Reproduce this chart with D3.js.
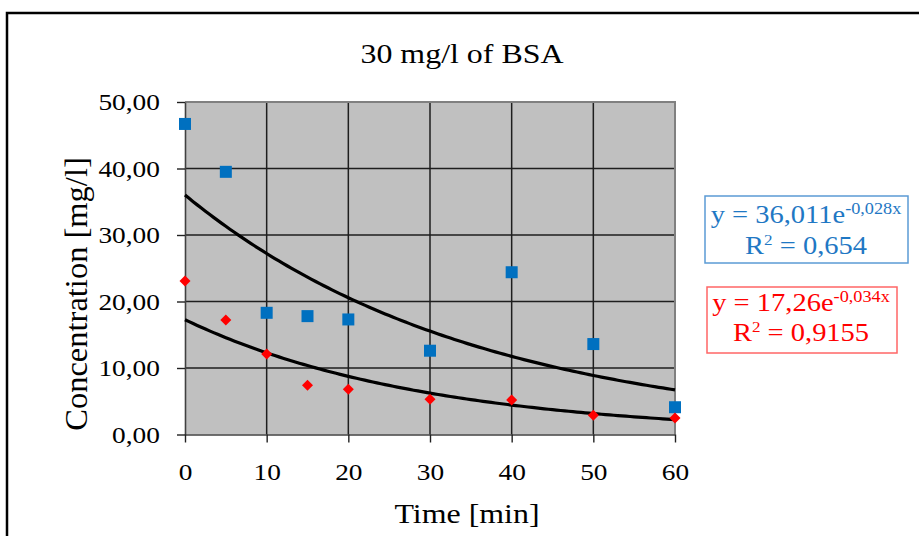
<!DOCTYPE html>
<html><head><meta charset="utf-8">
<script src="https://cdn.jsdelivr.net/npm/d3@7"></script>
<style>body{margin:0;background:#fff}svg{display:block}</style>
</head><body><svg id="c" width="919" height="536"></svg>
<script>
const times = [0, 5, 10, 15, 20, 30, 40, 50, 60];
const blueValues = [46.7, 39.5, 18.3, 17.8, 17.3, 12.6, 24.4, 13.6, 4.1];
const redValues = [23.1, 17.2, 12.1, 7.4, 6.8, 5.3, 5.2, 2.9, 2.5];
const xTicks = [0, 10, 20, 30, 40, 50, 60];
const xTickLabels = ["0", "10", "20", "30", "40", "50", "60"];
const yTicks = [0, 10, 20, 30, 40, 50];
const yTickLabels = ["0,00", "10,00", "20,00", "30,00", "40,00", "50,00"];
const trendCoefA = [36.011, 17.26];
const trendCoefB = [-0.028, -0.034];
const eqMain = ["y = 36,011e", "y = 17,26e"];
const eqExp = ["-0,028x", "-0,034x"];
const r2Values = ["0,654", "0,9155"];
const chartTitle = "30 mg/l of BSA";
const xTitle = "Time [min]";
const yTitle = "Concentration [mg/l]";

const FONT = "'Liberation Serif','Times New Roman',serif";
const SX = 1.14;
const svg = d3.select("#c");
svg.append("rect").attr("width", 919).attr("height", 536).attr("fill", "#fff");
svg.append("rect").attr("x", 7).attr("y", 13).attr("width", 1000).attr("height", 700)
  .attr("fill", "none").attr("stroke", "#000").attr("stroke-width", 2.5);

const L = 185, R = 675, T = 102, B = 434.5;
const x = d3.scaleLinear().domain([0, 60]).range([L, R]);
const y = d3.scaleLinear().domain([0, 50]).range([B, T]);

// plot area
svg.append("rect").attr("x", L).attr("y", T).attr("width", R - L).attr("height", B - T).attr("fill", "#C0C0C0");
const grid = svg.append("g").attr("stroke", "#1e1e1e").attr("stroke-width", 1.5);
grid.selectAll("line.h").data(yTicks.filter(v => v > 0 && v < 50)).join("line")
  .attr("x1", L).attr("x2", R).attr("y1", d => y(d)).attr("y2", d => y(d));
grid.selectAll("line.v").data(xTicks.filter(v => v > 0 && v < 60)).join("line")
  .attr("class", "v").attr("y1", T).attr("y2", B).attr("x1", d => x(d)).attr("x2", d => x(d));
svg.append("path").attr("d", `M${L},${T}H${R}V${B}`).attr("fill", "none").attr("stroke", "#808080").attr("stroke-width", 2);

// axes
const yAxis = svg.append("g").attr("transform", `translate(${L},0)`)
  .call(d3.axisLeft(y).tickValues(yTicks).tickFormat((d, i) => yTickLabels[i]).tickSize(8).tickSizeOuter(0).tickPadding(14));
const xAxis = svg.append("g").attr("transform", `translate(0,${B})`)
  .call(d3.axisBottom(x).tickValues(xTicks).tickFormat((d, i) => xTickLabels[i]).tickSize(8).tickSizeOuter(0).tickPadding(20));
[yAxis, xAxis].forEach(a => {
  a.select(".domain").attr("stroke", "#404040").attr("stroke-width", 1.6);
  a.selectAll(".tick line").attr("stroke", "#202020").attr("stroke-width", 1.4);
  a.selectAll(".tick text").attr("font-family", FONT).attr("font-size", 24).attr("fill", "#000")
    .attr("transform", `scale(${SX},1)`);
});

// trend lines
const xs = d3.range(0, 60.01, 0.5);
const line = d3.line().x(d => x(d[0])).y(d => y(d[1]));
trendCoefA.forEach((a, i) => {
  svg.append("path").attr("d", line(xs.map(t => [t, a * Math.exp(trendCoefB[i] * t)])))
    .attr("fill", "none").attr("stroke", "#000").attr("stroke-width", 3.2);
});

// markers
svg.append("g").selectAll("rect").data(times).join("rect")
  .attr("x", (d) => x(d) - 6).attr("y", (d, i) => y(blueValues[i]) - 6)
  .attr("width", 12).attr("height", 12).attr("fill", "#0070C0");
svg.append("g").selectAll("path").data(times).join("path")
  .attr("transform", (d, i) => `translate(${x(d)},${y(redValues[i])})`)
  .attr("d", "M0,-5.5L5.5,0L0,5.5L-5.5,0Z").attr("fill", "#FF0000");

// texts
function stext(px, py, str, size, sx, rot) {
  return svg.append("text").attr("transform", `translate(${px},${py}) scale(${sx},1)` + (rot ? ` rotate(${rot})` : ""))
    .attr("text-anchor", "middle").attr("font-family", FONT).attr("font-size", size).attr("fill", "#000").text(str);
}
stext(462, 63, chartTitle, 28, SX);
stext(467, 523, xTitle, 28, SX);
stext(87, 294, yTitle, 32.5, 1, -90);

// equation boxes
const boxes = [
  {x: 705, y: 196, w: 203, h: 67, cx: 806, b1: 223, b2: 254, text: "#1F78C4", border: "#5B9BD5"},
  {x: 707, y: 287, w: 190, h: 66, cx: 801, b1: 311, b2: 341, text: "#FF0000", border: "#FF6666"}
];
boxes.forEach((bx, i) => {
  svg.append("rect").attr("x", bx.x).attr("y", bx.y).attr("width", bx.w).attr("height", bx.h)
    .attr("fill", "#fff").attr("stroke", bx.border).attr("stroke-width", 1.5);
  const t1 = svg.append("text").attr("transform", `translate(${bx.cx},${bx.b1}) scale(${SX},1)`)
    .attr("text-anchor", "middle").attr("font-family", FONT).attr("font-size", 25).attr("fill", bx.text);
  t1.append("tspan").text(eqMain[i]);
  t1.append("tspan").attr("font-size", 16).attr("dy", -9).text(eqExp[i]);
  const t2 = svg.append("text").attr("transform", `translate(${bx.cx},${bx.b2}) scale(${SX},1)`)
    .attr("text-anchor", "middle").attr("font-family", FONT).attr("font-size", 25).attr("fill", bx.text);
  t2.append("tspan").text("R");
  t2.append("tspan").attr("font-size", 15).attr("dy", -9).text("2");
  t2.append("tspan").attr("dy", 9).text(" = " + r2Values[i]);
});
</script></body></html>
